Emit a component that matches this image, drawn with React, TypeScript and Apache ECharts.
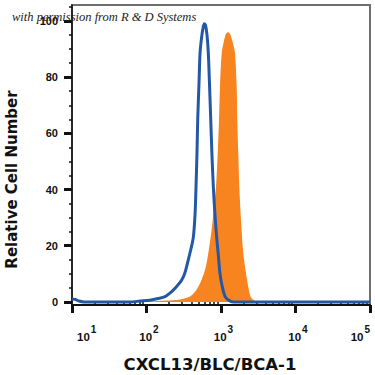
import React, { useEffect, useRef } from "react";
import * as echarts from "echarts";

// Axis ticks
const xMajorTicks = [10, 100, 1000, 10000, 100000];
const xMinorTicks = [
  20, 30, 40, 50, 60, 70, 80, 90,
  200, 300, 400, 500, 600, 700, 800, 900,
  2000, 3000, 4000, 5000, 6000, 7000, 8000, 9000,
  20000, 30000, 40000, 50000, 60000, 70000, 80000, 90000,
];
const yMajorTicks = [0, 20, 40, 60, 80, 100];
const yMinorTicks = [5, 10, 15, 25, 30, 35, 45, 50, 55, 65, 70, 75, 85, 90, 95, 105];

// Isotype control (blue outline)
const isotypeX = [
  10, 11, 12.4, 14.5, 60, 82, 111, 143, 177, 218, 254, 297, 329, 364, 396, 425,
  448, 462, 476, 487, 507, 523, 548, 574, 597, 619, 649, 676, 702, 728, 757, 789,
  830, 875, 925, 970, 1048, 1132, 1242, 1463, 100000,
];
const isotypeY = [
  1.0, 0.9, 0.3, 0, 0, 0.3, 0.6, 1.2, 1.9, 3.7, 5.5, 7.8, 10.5, 15, 19, 23,
  31, 41, 53, 65, 78, 88.5, 94, 97.5, 99, 98.5, 95, 88.5, 77, 65, 52, 41,
  31, 23, 16, 10, 5, 2, 0.8, 0, 0,
];

// CXCL13 staining (orange filled)
const cxclX = [
  82, 111, 177, 281, 384, 496, 610, 675, 727, 774, 857, 903, 940, 970, 1022, 1097,
  1167, 1253, 1341, 1449, 1541, 1624, 1655, 1707, 1761, 1855, 1992, 2166, 2325,
  2489, 2714, 3043,
];
const cxclY = [
  0, 0.2, 0.5, 0.9, 1.9, 5.4, 11.4, 17.3, 23.2, 29.2, 41, 52.9, 64.8, 76.6, 88.5, 93,
  95.5, 96, 95, 92, 88.5, 76.6, 64.8, 52.9, 41, 29.2, 17.3, 10.2, 5.4,
  1.9, 0.7, 0,
];

const xTitle = "CXCL13/BLC/BCA-1";
const yTitle = "Relative Cell Number";
const watermark = "with permission from R & D Systems";

const X_MIN = 10;
const X_MAX = 100000;
const Y_MIN = -1.1;
const Y_MAX = 105.7;

export default function App() {
  const ref = useRef<HTMLDivElement>(null);

  useEffect(() => {
    if (!ref.current) return;
    const chart = echarts.init(ref.current, null, { renderer: "svg" });
    const ink = "#111";
    const labelFont = "Liberation Sans";

    const option: any = {
      animation: false,
      backgroundColor: "#fff",
      grid: {
        left: 72,
        right: 5,
        top: 5,
        bottom: 70,
        show: true,
        borderColor: "#6e6e6e",
        borderWidth: 2,
        backgroundColor: "transparent",
      },
      xAxis: [
        {
          type: "log",
          logBase: 10,
          min: X_MIN,
          max: X_MAX,
          position: "bottom",
          axisLine: { show: true, onZero: false, lineStyle: { color: ink, width: 2 } },
          axisTick: {
            show: true,
            customValues: xMajorTicks,
            length: 8,
            lineStyle: { color: ink, width: 3 },
          },
          minorTick: { show: false },
          splitLine: { show: false },
          axisLabel: {
            customValues: xMajorTicks,
            margin: 18,
            alignMinLabel: "left",
            alignMaxLabel: "right",
            formatter: (v: number) => `{p|}{b|10}{s|${Math.round(Math.log10(v))}}`,
            rich: {
              p: { width: 5 },
              b: {
                fontFamily: labelFont,
                fontWeight: "bold",
                fontSize: 11.5,
                color: ink,
                padding: [8, 0, 0, 0],
              },
              s: {
                fontFamily: labelFont,
                fontWeight: "bold",
                fontSize: 10,
                color: ink,
                padding: [0, 0, 8, 1],
              },
            },
          },
        },
        {
          type: "log",
          logBase: 10,
          min: X_MIN,
          max: X_MAX,
          position: "bottom",
          axisLine: { show: false },
          axisTick: {
            show: true,
            customValues: xMinorTicks,
            length: 4,
            lineStyle: { color: ink, width: 1.5 },
          },
          axisLabel: { show: false },
          splitLine: { show: false },
        },
      ],
      yAxis: [
        {
          type: "value",
          min: Y_MIN,
          max: Y_MAX,
          position: "left",
          axisLine: { show: true, onZero: false, lineStyle: { color: ink, width: 1.5 } },
          axisTick: {
            show: true,
            customValues: yMajorTicks,
            length: 8,
            lineStyle: { color: ink, width: 3 },
          },
          splitLine: { show: false },
          axisLabel: {
            customValues: yMajorTicks,
            margin: 14,
            fontFamily: labelFont,
            fontWeight: "bold",
            fontSize: 11,
            color: ink,
          },
        },
        {
          type: "value",
          min: Y_MIN,
          max: Y_MAX,
          position: "left",
          axisLine: { show: false },
          axisTick: {
            show: true,
            customValues: yMinorTicks,
            length: 3,
            lineStyle: { color: ink, width: 1.5 },
          },
          axisLabel: { show: false },
          splitLine: { show: false },
        },
      ],
      series: [
        {
          name: "CXCL13",
          type: "line",
          xAxisIndex: 0,
          yAxisIndex: 0,
          data: cxclX.map((x, i) => [x, cxclY[i]]),
          symbol: "none",
          smooth: 0.3,
          lineStyle: { width: 0, color: "#F7841F" },
          itemStyle: { color: "#F7841F" },
          areaStyle: { color: "#F7841F", opacity: 1 },
          z: 2,
        },
        {
          name: "Isotype",
          type: "line",
          xAxisIndex: 0,
          yAxisIndex: 0,
          data: isotypeX.map((x, i) => [x, isotypeY[i]]),
          symbol: "none",
          smooth: 0.3,
          lineStyle: { width: 3, color: "#2358A6" },
          itemStyle: { color: "#2358A6" },
          z: 3,
        },
      ],
      graphic: [
        {
          type: "text",
          x: 11.5,
          y: 179.5,
          rotation: Math.PI / 2,
          style: {
            text: yTitle,
            font: 'bold 15px "DejaVu Sans"',
            fill: ink,
            align: "center",
            verticalAlign: "middle",
          },
        },
        {
          type: "text",
          x: 210,
          y: 364,
          style: {
            text: xTitle,
            font: 'bold 16.5px "DejaVu Sans"',
            fill: ink,
            align: "center",
            verticalAlign: "middle",
          },
        },
        {
          type: "text",
          x: 12,
          y: 17,
          z: 100,
          style: {
            text: watermark,
            font: 'italic 12.5px "Liberation Serif"',
            fill: "#222",
            align: "left",
            verticalAlign: "middle",
          },
        },
      ],
    };

    chart.setOption(option);
    return () => chart.dispose();
  }, []);

  return (
    <div
      ref={ref}
      style={{ position: "fixed", left: 0, top: 0, width: 375, height: 375 }}
    />
  );
}
